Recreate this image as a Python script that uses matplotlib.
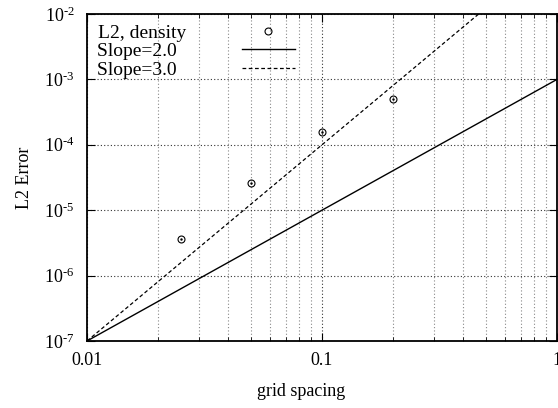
import matplotlib
matplotlib.use("Agg")
import matplotlib.pyplot as plt
from matplotlib.ticker import FixedLocator, FixedFormatter, LogLocator, NullFormatter

# data
spacing = [0.025, 0.05, 0.1, 0.2]
l2_density = [3.6e-6, 2.57e-5, 1.55e-4, 5.0e-4]

ref_h = [0.01, 1.0]
slope2 = [1e-7, 1e-3]
slope3 = [1e-7, 1e-1]

xticks = [0.01, 0.1, 1]
xtick_labels = ["0.01", "0.1", "1"]
yticks = [1e-7, 1e-6, 1e-5, 1e-4, 1e-3, 1e-2]
ytick_labels = [r"$10^{\text{-}%d}$" % e for e in (7, 6, 5, 4, 3, 2)]

plt.rcParams['font.family'] = ['Liberation Serif', 'DejaVu Serif']
plt.rcParams['mathtext.fontset'] = 'custom'
plt.rcParams['mathtext.rm'] = 'Liberation Serif'
plt.rcParams['mathtext.it'] = 'Liberation Serif'
plt.rcParams['mathtext.default'] = 'rm'

fig = plt.figure(figsize=(5.58, 4.08), dpi=100)
ax = fig.add_axes([87 / 558, 67 / 408, 470 / 558, 327 / 408])

ax.set_xscale('log')
ax.set_yscale('log')
ax.set_xlim(0.01, 1)
ax.set_ylim(1e-7, 1e-2)

# gnuplot-like dotted grid
ax.xaxis.set_minor_locator(LogLocator(base=10, subs=range(2, 10)))
ax.yaxis.set_minor_locator(FixedLocator([]))
ax.xaxis.set_minor_formatter(NullFormatter())
ax.grid(True, which='major', axis='both', linestyle=(0, (1, 2)), color='#333333', linewidth=0.8)
ax.grid(True, which='minor', axis='x', linestyle=(0, (1, 2)), color='#888888', linewidth=0.8)
ax.set_axisbelow(True)

ax.plot(spacing, l2_density, linestyle='none', marker='o', markersize=5,
        markerfacecolor='none', markeredgecolor='black', markeredgewidth=0.8,
        label="L2, density")
ax.plot(spacing, l2_density, linestyle='none', marker='.', markersize=1.5, color='black')
ax.plot(ref_h, slope2, color='black', linewidth=1.0, label="Slope=2.0  ")
ax.plot(ref_h, slope3, color='black', linewidth=0.9, linestyle=(0, (3, 2)), label="Slope=3.0  ")

ax.xaxis.set_major_locator(FixedLocator(xticks))
ax.xaxis.set_major_formatter(FixedFormatter(xtick_labels))
ax.yaxis.set_major_locator(FixedLocator(yticks))
ax.yaxis.set_major_formatter(FixedFormatter(ytick_labels))
ax.tick_params(which='both', direction='in', top=True, right=True, labelsize=13, colors='black')
ax.tick_params(which='major', length=6)
ax.tick_params(which='minor', length=3)
ax.tick_params(axis='x', pad=8)
ax.tick_params(axis='y', pad=9)

for s in ax.spines.values():
    s.set_linewidth(1.3)

ax.set_xlabel("grid spacing", fontsize=13, labelpad=10, x=0.455)
ax.set_ylabel("L2 Error", fontsize=13, labelpad=8)

ax.legend(loc='upper left', frameon=False, markerfirst=False, fontsize=14,
          handlelength=2.7, handletextpad=2.85, borderaxespad=0.25,
          labelspacing=0.05, borderpad=0.27)

plt.savefig("out.png", dpi=100)
